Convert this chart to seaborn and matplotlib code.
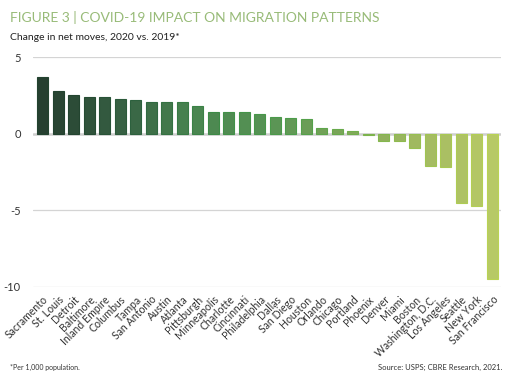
import numpy as np
import pandas as pd
import matplotlib
matplotlib.use("Agg")
import matplotlib.pyplot as plt
from matplotlib.colors import LinearSegmentedColormap
import seaborn as sns

cities = ["Sacramento", "St. Louis", "Detroit", "Baltimore", "Inland Empire", "Columbus",
          "Tampa", "San Antonio", "Austin", "Atlanta", "Pittsburgh", "Minneapolis",
          "Charlotte", "Cincinnati", "Philadelphia", "Dallas", "San Diego", "Houston",
          "Orlando", "Chicago", "Portland", "Phoenix", "Denver", "Miami", "Boston",
          "Washington, D.C.", "Los Angeles", "Seattle", "New York", "San Francisco"]
values = [3.7, 2.8, 2.5, 2.4, 2.4, 2.3, 2.2, 2.1, 2.1, 2.1, 1.8, 1.4, 1.4, 1.4, 1.3,
          1.1, 1.0, 0.95, 0.4, 0.3, 0.2, -0.1, -0.5, -0.5, -0.9, -2.1, -2.2, -4.5, -4.7, -9.5]
yticks = [5, 0, -5, -10]

df = pd.DataFrame({"city": cities, "value": values})

sns.set_theme(style="white")
plt.rcParams["font.family"] = ["Lato", "DejaVu Sans"]

cmap = LinearSegmentedColormap.from_list(
    "g", ["#22432f", "#2f6640", "#3f8f48", "#4d9e4a", "#7cb34c", "#a8c852", "#c2d955"])
n = len(cities)
palette = [cmap(i / (n - 1)) for i in range(n)]
edge = [cmap(max(i / (n - 1) - 0.06, 0)) for i in range(n)]

fig = plt.figure(figsize=(5.12, 3.81), dpi=100)
ax = fig.add_axes([0.065, 0.247, 0.913, 0.603])

sns.barplot(data=df, x="city", y="value", hue="city", palette=palette, legend=False,
            width=0.72, ax=ax, linewidth=0.8)
for p, ec in zip(ax.patches, edge):
    p.set_edgecolor(ec)

ax.set_ylim(-10, 5)
ax.set_xlim(-0.6, n - 0.45)
ax.set_yticks(yticks)
ax.set_yticklabels([str(v) for v in yticks], fontsize=8, color="#333333")
for v in [5, -5, -10]:
    ax.axhline(v, color="#d4d4d4", lw=0.9, zorder=0)
ax.axhline(0, color="#cfcfcf", lw=1.8, zorder=0)
ax.tick_params(axis="y", length=0, pad=9)
ax.tick_params(axis="x", length=0, pad=5)
ax.set_xticks(range(n))
ax.set_xticklabels(cities, rotation=45, ha="right", rotation_mode="anchor",
                   fontsize=7.6, color="#333333")
ax.set_xlabel("")
ax.set_ylabel("")
for s in ax.spines.values():
    s.set_visible(False)

fig.text(0.02, 0.955, "FIGURE 3 | COVID-19 IMPACT ON MIGRATION PATTERNS",
         fontsize=10, color="#98bb78", va="center", ha="left")
fig.text(0.02, 0.902, "Change in net moves, 2020 vs. 2019*",
         fontsize=7.5, color="#222222", va="center", ha="left")
fig.text(0.02, 0.035, "*Per 1,000 population.", fontsize=5, color="#333333",
         va="center", ha="left")
fig.text(0.982, 0.035, "Source: USPS; CBRE Research, 2021.", fontsize=5.5,
         color="#333333", va="center", ha="right")

fig.savefig("out.png", dpi=100, facecolor="white")
